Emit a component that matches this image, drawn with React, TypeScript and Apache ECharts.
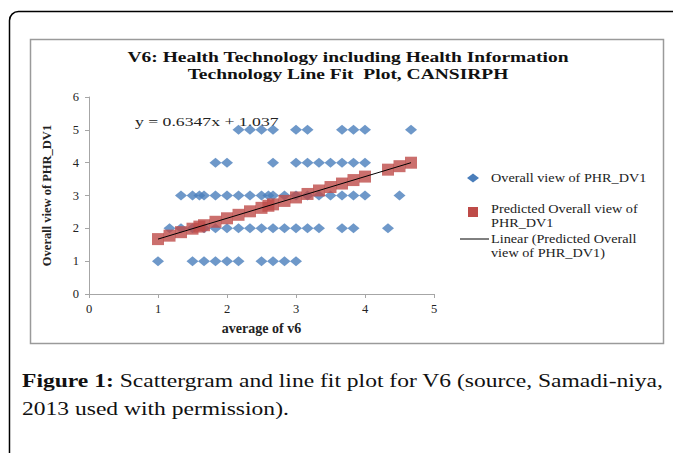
import React, { useEffect, useRef } from "react";
import * as echarts from "echarts";

const titleLines = ["V6: Health Technology including Health Information", "Technology Line Fit  Plot, CANSIRPH"];
const xAxisName = "average of v6";
const yAxisName = "Overall view of PHR_DV1";
const equation = "y = 0.6347x + 1.037";
const seriesNames = ["Overall view of PHR_DV1", "Predicted Overall view of PHR_DV1", "Linear (Predicted Overall view of PHR_DV1)"];

// Observed points: [average of v6, overall view]
const observed1 = [1, 1.5, 1.667, 1.833, 2, 2.167, 2.5, 2.667, 2.833, 3];
const observed2 = [1.167, 1.333, 1.5, 1.667, 1.833, 2, 2.167, 2.333, 2.5, 2.667, 2.833, 3, 3.167, 3.333, 3.667, 3.833, 4.333];
const observed3 = [1.333, 1.5, 1.6, 1.667, 1.833, 2, 2.167, 2.333, 2.5, 2.6, 2.667, 2.833, 3, 3.167, 3.333, 3.5, 3.667, 3.833, 4, 4.5];
const observed4 = [1.833, 2, 2.667, 3, 3.167, 3.333, 3.5, 3.667, 3.833, 4];
const observed5 = [2.167, 2.333, 2.5, 2.667, 3, 3.167, 3.667, 3.833, 4, 4.667];

const predictedX = [1, 1.167, 1.333, 1.5, 1.6, 1.667, 1.833, 2, 2.167, 2.333, 2.5, 2.6, 2.667, 2.833, 3, 3.167, 3.333, 3.5, 3.667, 3.833, 4, 4.333, 4.5, 4.667];
const predictedY = [1.672, 1.777, 1.883, 1.989, 2.053, 2.095, 2.2, 2.306, 2.412, 2.518, 2.624, 2.687, 2.73, 2.835, 2.941, 3.047, 3.153, 3.258, 3.364, 3.47, 3.576, 3.787, 3.893, 3.999];

const trendX = [1, 4.667];
const trendY = [1.672, 3.999];

const captionBold = "Figure 1:";
const captionLine1 = " Scattergram and line fit plot for V6 (source, Samadi-niya,";
const captionLine2 = "2013 used with permission).";

const SERIF = "'Liberation Serif', 'Times New Roman', serif";

export default function App() {
  const ref = useRef<HTMLDivElement>(null);
  useEffect(() => {
    document.body.style.margin = "0";
    const chart = echarts.init(ref.current!, null, { renderer: "svg" });
    const observed: number[][] = [];
    [observed1, observed2, observed3, observed4, observed5].forEach((xs, i) => {
      xs.forEach((x) => observed.push([x, i + 1]));
    });
    const predicted = predictedX.map((x, i) => [x, predictedY[i]]);
    const trend = trendX.map((x, i) => [x, trendY[i]]);

    const axisLabel = { fontFamily: SERIF, fontSize: 12.5, color: "#222", margin: 8 };
    const legendFont = `12.5px ${SERIF}`;
    const lsx = 1.14;
    chart.setOption({
      animation: false,
      backgroundColor: "#fff",
      grid: { left: 89, right: 239, top: 97, bottom: 159, containLabel: false },
      xAxis: {
        type: "value", min: 0, max: 5, interval: 1,
        name: xAxisName, nameLocation: "middle", nameGap: 27,
        nameTextStyle: { fontFamily: SERIF, fontWeight: "bold", fontSize: 14, color: "#222" },
        axisLine: { show: true, onZero: false, lineStyle: { color: "#a6a6a6", width: 1 } },
        axisTick: { show: true, length: 4, lineStyle: { color: "#a6a6a6" } },
        splitLine: { show: false },
        axisLabel,
      },
      yAxis: {
        type: "value", min: 0, max: 6, interval: 1,
        name: yAxisName, nameLocation: "middle", nameGap: 36, nameRotate: 90,
        nameTextStyle: { fontFamily: SERIF, fontWeight: "bold", fontSize: 12.5, color: "#222" },
        axisLine: { show: true, onZero: false, lineStyle: { color: "#a6a6a6", width: 1 } },
        axisTick: { show: true, length: 4, lineStyle: { color: "#a6a6a6" } },
        splitLine: { show: false },
        axisLabel: { ...axisLabel, margin: 10 },
      },
      series: [
        {
          name: seriesNames[0], type: "scatter", data: observed, symbol: "diamond", symbolSize: [12, 10],
          itemStyle: { color: "#4a7ebb" }, z: 2,
        },
        {
          name: seriesNames[1], type: "scatter", data: predicted, symbol: "rect", symbolSize: 12,
          itemStyle: { color: "#be4b48" }, z: 3,
        },
        {
          name: seriesNames[2], type: "line", data: trend, symbol: "none",
          lineStyle: { color: "#000", width: 1 }, z: 4,
        },
      ],
      graphic: [
        { type: "rect", shape: { x: 9.5, y: 11.5, width: 700, height: 500, r: 9 }, style: { fill: "none", stroke: "#000", lineWidth: 1.5 }, z: 100 },
        { type: "rect", shape: { x: 30.5, y: 39.5, width: 633, height: 304 }, style: { fill: "none", stroke: "#9a9a9a", lineWidth: 1.5 }, z: 100 },
        { type: "text", x: 348, y: 57, scaleX: 1.3, style: { text: titleLines[0], font: `bold 15px ${SERIF}`, fill: "#111", align: "center", verticalAlign: "middle" } },
        { type: "text", x: 348, y: 74, scaleX: 1.3, style: { text: titleLines[1], font: `bold 15px ${SERIF}`, fill: "#111", align: "center", verticalAlign: "middle" } },
        { type: "text", x: 135, y: 121, scaleX: 1.36, style: { text: equation, font: `13px ${SERIF}`, fill: "#222", align: "left", verticalAlign: "middle" } },
        // legend
        { type: "polygon", shape: { points: [[473, 173.5], [479, 178], [473, 182.5], [467, 178]] }, style: { fill: "#4a7ebb" } },
        { type: "text", x: 491, y: 178, scaleX: lsx, style: { text: seriesNames[0], font: legendFont, fill: "#222", verticalAlign: "middle" } },
        { type: "rect", shape: { x: 468, y: 207, width: 10, height: 10 }, style: { fill: "#be4b48" } },
        { type: "text", x: 491, y: 209, scaleX: lsx, style: { text: "Predicted Overall view of", font: legendFont, fill: "#222", verticalAlign: "middle" } },
        { type: "text", x: 491, y: 223, scaleX: lsx, style: { text: "PHR_DV1", font: legendFont, fill: "#222", verticalAlign: "middle" } },
        { type: "line", shape: { x1: 460, y1: 239, x2: 489, y2: 239 }, style: { stroke: "#000", lineWidth: 1 } },
        { type: "text", x: 491, y: 239, scaleX: lsx, style: { text: "Linear (Predicted Overall", font: legendFont, fill: "#222", verticalAlign: "middle" } },
        { type: "text", x: 491, y: 253, scaleX: lsx, style: { text: "view of PHR_DV1)", font: legendFont, fill: "#222", verticalAlign: "middle" } },
        // caption
        {
          type: "text", x: 22, y: 381, scaleX: 1.24,
          style: {
            text: `{b|${captionBold}}${captionLine1}`,
            rich: { b: { fontWeight: "bold", fontFamily: SERIF, fontSize: 19, fill: "#111" } },
            font: `19px ${SERIF}`, fill: "#111", verticalAlign: "middle",
          },
        },
        { type: "text", x: 22, y: 409, scaleX: 1.24, style: { text: captionLine2, font: `19px ${SERIF}`, fill: "#111", verticalAlign: "middle" } },
      ],
    });
    return () => chart.dispose();
  }, []);
  return <div ref={ref} style={{ width: 673, height: 453 }} />;
}
